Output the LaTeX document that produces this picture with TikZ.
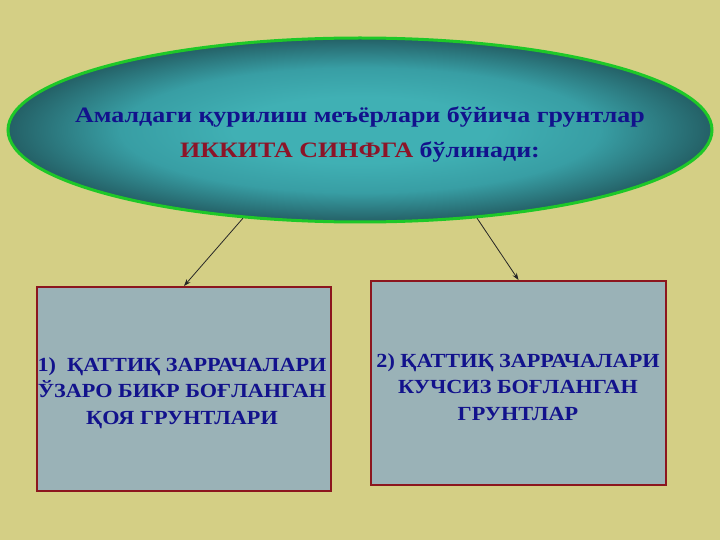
\documentclass[tikz,border=0pt]{standalone}
\usepackage{fontspec}
\setmainfont{Liberation Serif}
\newfontfamily\ellfont[FakeStretch=1.18]{Liberation Serif}
\newfontfamily\boxfont[FakeStretch=1.11]{Liberation Serif}
\usetikzlibrary{shapes.geometric,arrows.meta}
\definecolor{bgcol}{RGB}{212,207,133}
\definecolor{ellin}{RGB}{64,176,180}
\definecolor{ellmid}{RGB}{56,158,164}
\definecolor{ellout}{RGB}{36,96,102}
\definecolor{ellborder}{RGB}{30,200,40}
\definecolor{boxfill}{RGB}{154,178,183}
\definecolor{boxborder}{RGB}{140,22,30}
\definecolor{txtblue}{RGB}{18,18,140}
\definecolor{txtred}{RGB}{140,20,40}
\pgfdeclareradialshading{ellshade}{\pgfpoint{0bp}{0bp}}{%
  color(0bp)=(ellin); color(9bp)=(ellin); color(17bp)=(ellmid); color(25bp)=(ellout); color(50bp)=(ellout)}
\tikzset{
  bigell/.style={ellipse, draw=ellborder, line width=3pt, shading=ellshade,
    minimum width=704pt, minimum height=184pt, inner sep=0pt},
  elltext/.style={align=center, inner sep=0pt, text=txtblue,
    font=\ellfont\bfseries\fontsize{22}{35}\selectfont},
  soilbox/.style={rectangle, draw=boxborder, line width=2pt, fill=boxfill,
    minimum width=294pt, minimum height=204pt, inner sep=0pt},
  boxtext/.style={align=center, inner sep=0pt, text=txtblue,
    font=\boxfont\bfseries\fontsize{20}{26.3}\selectfont},
  conn/.style={draw=black!85, line width=0.8pt, -{Stealth[length=7pt,width=5pt]}}
}
\begin{document}
\begin{tikzpicture}[x=1pt,y=-1pt]
\fill[bgcol] (0,0) rectangle (720,540);
\useasboundingbox (0,0) rectangle (720,540);
\node[bigell] (ell) at (360,130) {};
\node[elltext] (et) at (360,135) {Амалдаги қурилиш меъёрлари бўйича грунтлар\\ \textcolor{txtred}{ИККИТА СИНФГА} бўлинади:};
\node[soilbox] (lb) at (184,389) {};
\node[boxtext] (lt) at (182,393) {1)\ \ ҚАТТИҚ ЗАРРАЧАЛАРИ\\ЎЗАРО БИКР БОҒЛАНГАН\\ҚОЯ ГРУНТЛАРИ};
\node[soilbox, minimum width=295pt] (rb) at (518.5,383) {};
\node[boxtext] (rt) at (518,387) {2) ҚАТТИҚ ЗАРРАЧАЛАРИ\\КУЧСИЗ БОҒЛАНГАН\\ГРУНТЛАР};
\draw[conn] (ell.217) -- (lb.north);
\draw[conn] (ell.323) -- (rb.north);
\end{tikzpicture}
\end{document}
